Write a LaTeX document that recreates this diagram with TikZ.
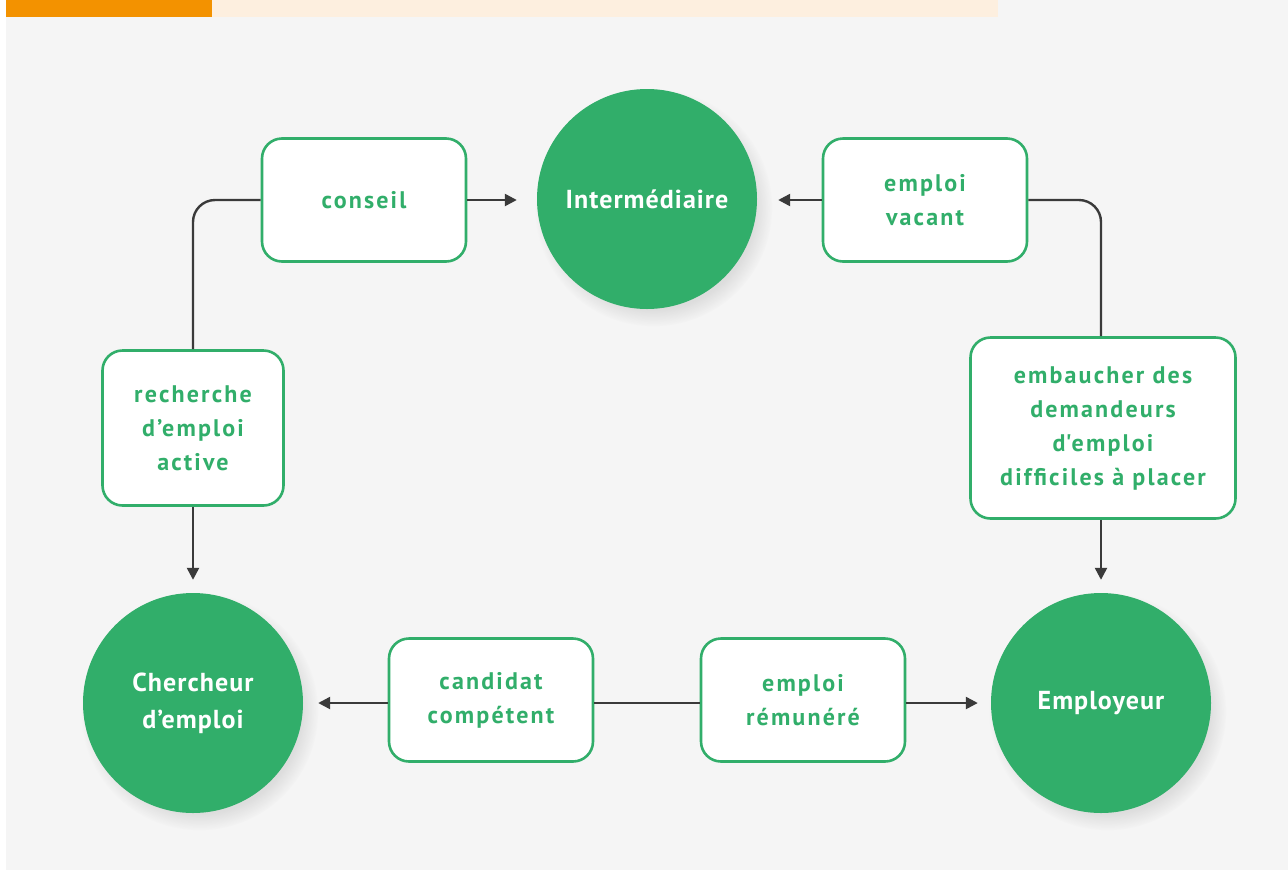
\documentclass[tikz,border=0pt]{standalone}
\usepackage{fontspec}
\setmainfont{PT Sans}
\newfontfamily\boxfont{PT Sans}[LetterSpace=9]
\newfontfamily\circfont{PT Sans}[LetterSpace=4]
\usetikzlibrary{arrows.meta,shadows}
\definecolor{gr}{HTML}{31AE6A}
\definecolor{bgc}{HTML}{F5F5F5}
\definecolor{org}{HTML}{F39200}
\definecolor{crm}{HTML}{FDEFDF}
\definecolor{ln}{HTML}{3A3A3A}
\tikzset{
  circ/.style={circle, fill=gr, minimum size=220pt, inner sep=0pt, text=white, align=center,
     font=\circfont\bfseries\fontsize{26}{37}\selectfont,
     circular drop shadow={shadow xshift=6pt, shadow yshift=-8pt, opacity=.2, shadow scale=1.08}},
  box/.style={draw=gr, line width=2.6pt, fill=white, rounded corners=20pt, text=gr, align=center,
     inner sep=0pt, font=\boxfont\bfseries\fontsize{24}{34}\selectfont},
  conn/.style={draw=ln, line width=2.4pt},
  arr/.style={conn, -{Triangle[length=12pt,width=12pt]}},
}
\begin{document}
\begin{tikzpicture}[x=1pt,y=-1pt]
\useasboundingbox (0,0) rectangle (1288,871);
\fill[white] (0,0) rectangle (1288,871);
\fill[bgc] (6,0) rectangle (1288,870);
\fill[org] (6,0) rectangle (212,17);
\fill[crm] (212,0) rectangle (998,17);

\node[circ] (inter) at (647,199) {Intermédiaire};
\node[circ] (cher) at (193,703) {Chercheur\\d’emploi};
\node[circ] (empl) at (1101,703) {Employeur};

\node[box, minimum width=204pt, minimum height=123pt] (conseil) at (364,200) {conseil};
\node[box, minimum width=204pt, minimum height=123pt] (vacant) at (925,200) {emploi\\vacant};
\node[box, minimum width=181pt, minimum height=155pt] (rech) at (193,428) {recherche\\d’emploi\\active};
\node[box, minimum width=265pt, minimum height=181pt] (emb) at (1103,428) {embaucher des\\demandeurs\\d\textquotesingle emploi\\difficiles à placer};
\node[box, minimum width=204pt, minimum height=123pt] (cand) at (491,700) {candidat\\compétent};
\node[box, minimum width=204pt, minimum height=123pt] (remu) at (803,700) {emploi\\rémunéré};

\draw[conn, rounded corners=22pt] (rech.north) |- (conseil.west);
\draw[arr, shorten >=20pt] (conseil.east) -- (conseil.east -| inter.west);
\draw[arr, shorten >=13pt] (rech.south) -- (cher.north);
\draw[conn, rounded corners=22pt] (emb.north -| empl.north) |- (vacant.east);
\draw[arr, shorten >=21pt] (vacant.west) -- (vacant.west -| inter.east);
\draw[arr, shorten >=13pt] (emb.south -| empl.south) -- (empl.north);
\draw[arr, shorten >=15pt] (cand.west |- cher.east) -- (cher.east);
\draw[conn] (cand.east |- cher.east) -- (remu.west |- cher.east);
\draw[arr, shorten >=13pt] (remu.east |- empl.west) -- (empl.west);
\end{tikzpicture}
\end{document}
